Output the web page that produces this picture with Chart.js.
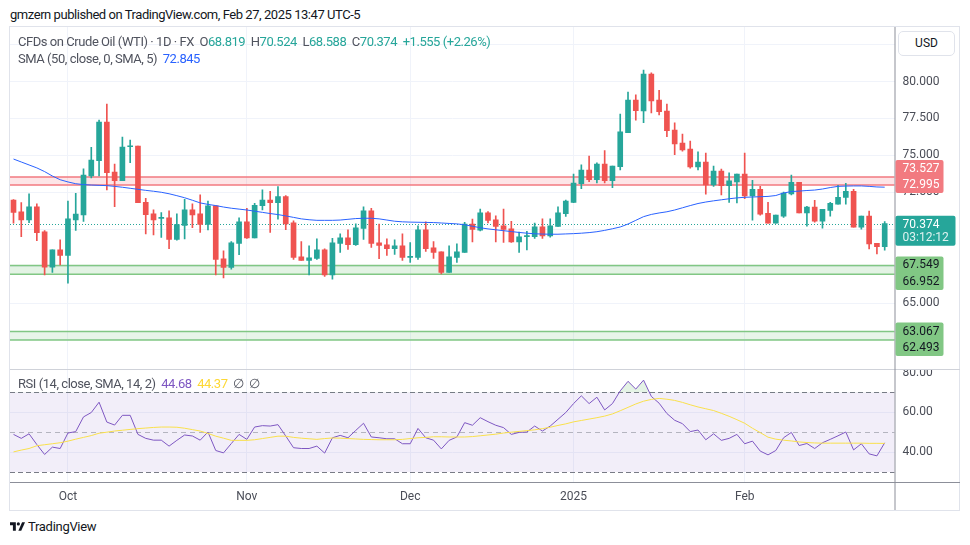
<!DOCTYPE html>
<html>
<head>
<meta charset="utf-8">
<script src="https://cdn.jsdelivr.net/npm/chart.js@4.4.1/dist/chart.umd.min.js"></script>
<style>
  body { margin: 0; background: #fff; font-family: Roboto, "Noto Sans", sans-serif; }
  #page { position: relative; width: 970px; height: 545px; overflow: hidden; background: #fff; }
  #frame { position: absolute; left: 9px; top: 26px; width: 951px; height: 485px; border: 1px solid #e0e3eb; box-sizing: border-box; }
  canvas { position: absolute; }
  .txt { position: absolute; white-space: pre; font-size: 13px; letter-spacing: -0.45px; color: #131722; line-height: 16px; }
  .g { color: #50535e; }
  .t { color: #26a69a; }
  #usd { position: absolute; left: 898px; top: 31px; width: 57px; height: 25px; border: 1px solid #e0e3eb; border-radius: 5px; box-sizing: border-box; background: #fff; font-size: 12px; color: #131722; text-align: center; line-height: 23px; }
  #logo { position: absolute; left: 10px; top: 519px; font-size: 13px; letter-spacing: -0.3px; color: #131722; display: flex; align-items: center; gap: 3px; }
</style>
</head>
<body>
<div id="page">
  <div class="txt" style="left:10px; top:7px;">gmzern published on TradingView.com, Feb 27, 2025 13:47 UTC-5</div>
  <div id="frame"></div>
  <canvas id="price" width="950" height="342" style="left:10px; top:27px;"></canvas>
  <canvas id="rsi" width="950" height="141" style="left:10px; top:369px;"></canvas>
  <div class="txt" style="left:18px; top:34px;"><span class="g">CFDs on Crude Oil (WTI) · 1D · FX  O</span><span class="t">68.819</span><span class="g">  H</span><span class="t">70.524</span><span class="g">  L</span><span class="t">68.588</span><span class="g">  C</span><span class="t">70.374</span><span class="t">  +1.555 (+2.26%)</span></div>
  <div class="txt" style="left:18px; top:51px;"><span class="g">SMA (50, close, 0, SMA, 5)  </span><span style="color:#2962ff">72.845</span></div>
  <div class="txt" style="left:18px; top:376px;"><span class="g">RSI (14, close, SMA, 14, 2)  </span><span style="color:#7e57c2">44.68</span>  <span style="color:#fdd835">44.37</span><span class="g">  ∅  ∅</span></div>
  <div id="usd">USD</div>
  <div id="logo">
    <svg width="15" height="9" viewBox="0 0 18 10"><path d="M0 0H7V10H3.5V3.5H0Z" fill="#131722"/><circle cx="10" cy="1.9" r="1.9" fill="#131722"/><path d="M14.5 0H18L13.5 10H10Z" fill="#131722"/></svg>
    <span>TradingView</span>
  </div>
</div>
<script>
// daily candles, Sep 20 2024 .. Feb 27 2025
const opens = [71.98,71.17,70.63,71.51,69.82,67.43,68.60,68.22,70.63,70.97,73.60,74.64,77.25,73.87,73.29,75.58,75.63,71.82,71.04,70.73,
  70.77,69.30,70.25,71.31,71.04,70.32,71.58,67.99,67.41,69.03,70.50,69.41,71.60,71.98,71.80,72.21,70.43,68.13,67.88,68.02,
  68.60,66.91,69.03,69.41,68.96,70.05,71.24,69.08,68.94,68.69,68.87,68.09,68.09,69.95,68.74,68.47,67.07,68.09,68.42,70.34,
  69.93,71.10,70.63,70.23,70.02,69.14,69.50,69.50,70.16,69.55,70.18,71.06,71.82,73.09,74.01,73.36,74.41,73.29,74.23,76.53,
  78.74,78.00,80.50,78.74,78.00,76.71,75.83,75.43,74.21,74.55,73.00,73.94,72.95,73.20,73.74,72.25,72.70,71.08,70.41,70.88,
  72.39,73.18,71.10,71.49,70.54,71.28,71.69,72.16,72.57,70.14,70.88,69.05,68.819];
const highs = [72.00,71.80,72.39,71.71,69.91,68.60,69.28,71.91,72.43,74.08,75.54,77.39,78.47,74.41,76.24,76.04,75.63,72.09,71.31,71.12,
  71.24,71.04,72.03,71.71,72.32,71.91,71.58,68.54,69.17,70.77,71.42,71.76,72.66,72.57,72.88,72.27,70.57,69.17,68.87,69.35,
  68.67,69.39,69.68,69.95,70.36,71.51,71.42,70.34,69.35,69.28,69.68,69.10,70.23,70.50,69.17,68.47,68.87,69.01,70.47,70.68,
  71.37,71.19,70.90,71.37,70.54,69.80,69.86,70.41,70.70,70.70,71.51,71.98,73.74,74.35,74.95,74.50,75.32,74.28,77.79,79.28,
  79.10,80.77,80.59,79.41,78.47,77.21,76.44,75.97,75.23,75.16,74.28,74.07,73.81,73.74,75.16,73.31,72.91,71.82,70.95,72.52,
  73.67,73.18,71.55,71.96,71.35,71.82,72.97,73.11,72.70,70.88,71.22,69.05,70.524];
const lows = [70.40,69.50,70.45,69.23,66.91,67.07,67.59,66.35,69.91,70.52,73.47,73.60,72.66,71.53,73.29,74.50,71.80,69.68,69.62,69.44,
  68.69,69.25,69.35,70.11,69.79,69.95,66.91,66.70,67.30,68.28,69.37,69.41,71.31,69.79,70.68,69.97,67.95,67.88,66.91,67.95,
  66.80,66.62,68.42,68.63,68.90,69.30,68.76,68.01,68.22,68.29,67.88,67.75,67.95,68.49,68.02,66.98,67.07,67.75,68.42,69.14,
  69.89,70.43,69.14,69.10,69.10,68.42,68.60,69.37,69.37,69.46,70.18,70.86,71.80,72.75,73.22,73.13,73.13,72.81,74.01,76.53,
  77.39,77.21,77.88,77.73,76.26,75.05,75.29,74.14,74.01,72.38,72.90,72.32,71.82,71.78,72.07,70.61,70.95,70.41,70.41,70.79,
  72.32,71.10,70.20,70.47,70.07,70.88,71.69,71.69,70.14,70.00,68.67,68.33,68.588];
const closes = [71.13,70.63,71.51,69.77,67.43,68.60,68.22,70.70,71.03,73.67,74.68,77.25,73.83,73.29,75.56,75.62,71.80,70.99,70.63,70.77,
  69.30,70.32,71.31,70.97,70.32,71.58,67.95,67.41,69.08,70.50,69.41,71.62,71.98,71.80,72.21,70.36,68.09,67.88,68.06,68.60,
  66.91,69.08,69.41,68.96,70.09,71.24,69.03,68.90,68.69,68.87,68.09,68.13,69.95,68.69,68.42,67.07,68.13,68.47,70.34,69.98,
  71.10,70.59,70.18,69.98,69.14,69.48,69.55,70.16,69.55,70.23,71.10,71.91,73.13,74.01,73.36,74.41,73.29,74.28,76.60,78.74,
  78.02,80.50,78.69,77.95,76.67,75.77,75.36,74.21,74.55,73.00,73.94,72.95,73.27,73.74,72.25,72.70,71.01,70.41,70.95,72.45,
  73.18,71.10,71.49,70.54,71.35,71.76,72.16,72.57,70.14,70.88,69.01,68.82,70.374];
// SMA 50 of close, read per candle
const sma50 = [74.75,74.55,74.35,74.15,73.90,73.60,73.35,73.20,73.08,73.02,72.99,72.97,72.95,72.90,72.84,72.77,72.70,72.63,72.57,72.50,
  72.40,72.27,72.13,71.96,71.78,71.68,71.60,71.50,71.42,71.36,71.30,71.22,71.14,71.06,70.99,70.90,70.80,70.70,70.64,70.60,
  70.60,70.60,70.62,70.67,70.72,70.74,70.74,70.70,70.62,70.54,70.50,70.48,70.47,70.46,70.45,70.42,70.39,70.36,70.30,70.20,
  70.10,70.02,69.96,69.90,69.84,69.78,69.73,69.69,69.67,69.66,69.66,69.68,69.70,69.73,69.77,69.83,69.92,70.03,70.15,70.35,
  70.60,70.85,71.00,71.10,71.18,71.30,71.45,71.60,71.74,71.84,71.92,71.99,72.06,72.12,72.16,72.18,72.20,72.22,72.28,72.45,
  72.55,72.58,72.62,72.65,72.72,72.82,72.90,72.92,72.93,72.93,72.90,72.86,72.845];
// RSI 14 and its SMA 14
const rsi14 = [48.9,46.9,49.2,43.8,38.8,42.5,41.8,49.6,50.3,57.7,59.9,65.1,55.1,53.6,58.5,58.5,48.9,46.9,46.0,46.0,
  43.0,45.9,48.6,48.1,46.0,50.1,40.8,39.6,44.3,48.9,46.4,52.6,53.3,53.1,53.8,48.1,42.2,41.8,41.8,43.0,
  39.5,47.2,48.4,47.2,50.9,54.5,47.6,47.2,46.7,46.7,44.2,44.2,51.9,47.2,46.0,41.6,45.9,47.6,54.8,53.5,
  57.3,55.3,53.5,52.3,48.9,49.9,50.1,53.1,50.6,53.1,56.5,59.9,64.4,68.3,64.4,67.6,61.2,64.4,70.8,75.6,
  71.7,76.2,68.0,64.6,59.4,56.0,54.3,50.3,51.1,46.2,49.2,45.9,46.9,48.9,44.2,45.5,40.5,38.6,40.8,47.2,
  49.9,43.3,44.3,41.8,44.7,46.4,48.2,50.1,41.1,44.2,39.1,38.1,44.68];
const rsiMa = [40.1,41.0,41.8,43.2,43.7,44.2,44.7,45.5,46.5,47.4,48.3,49.5,50.0,50.6,51.0,51.4,51.8,52.1,52.4,52.6,
  52.6,52.5,52.0,51.3,50.6,49.4,48.0,47.0,45.9,45.9,45.9,46.2,46.8,47.4,48.0,48.0,47.4,47.0,46.7,46.4,
  46.8,47.1,47.0,46.8,46.6,46.4,46.3,46.2,46.2,46.2,46.4,46.8,47.2,47.4,47.7,47.7,47.6,47.6,47.6,47.8,
  48.2,48.6,49.0,49.6,50.0,50.4,50.8,51.2,51.8,52.5,53.4,54.2,55.2,55.9,56.6,57.3,58.1,59.2,60.8,62.5,
  64.2,65.6,66.5,67.0,66.6,66.0,65.0,63.8,62.7,61.8,60.9,59.5,58.0,56.3,54.5,52.0,49.8,47.5,46.5,46.0,
  45.6,45.1,44.8,44.6,44.5,44.5,44.5,44.5,44.5,44.5,44.4,44.4,44.37];

// drawn levels (rectangles on the chart)
const bandHigh = [73.527, 67.549, 63.067];
const bandLow = [72.995, 66.952, 62.493];
const lastPrice = 70.374;
const countdown = '03:12:12';

// axes
const monthIdx = [7, 30, 51, 72, 94];
const monthLabels = ['Oct', 'Nov', 'Dec', '2025', 'Feb'];
const priceTicks = [62.5, 65, 67.5, 70, 72.5, 75, 77.5, 80, 82.5];
const rsiTicks = [40, 60, 80];

const up = '#26a69a', down = '#ef5350';
const gridColor = '#f0f3fa';
const axisText = '#4a4d57';
const axisLine = '#8c8f99';
const font = { family: 'Roboto, "Noto Sans", sans-serif', size: 12 };
const bandStyle = [
  { line: '#f27a80', fill: 'rgba(242,54,69,0.13)', text: '#fff' },
  { line: '#81c784', fill: 'rgba(129,199,132,0.22)', text: '#131722' },
  { line: '#81c784', fill: 'rgba(129,199,132,0.18)', text: '#131722' }
];

Chart.defaults.font.family = font.family;
const candleColors = closes.map((c, i) => c >= opens[i] ? up : down);

const xBase = {
  type: 'linear', min: -0.45, max: 113.26, offset: false,
  afterBuildTicks: s => { s.ticks = monthIdx.map(v => ({ value: v })); },
  grid: { color: gridColor, drawTicks: false, offset: false },
  border: { display: false }
};

const priceOverlay = {
  id: 'priceOverlay',
  beforeDatasetsDraw(chart) {
    const { ctx, chartArea: a, scales: { y } } = chart;
    ctx.save();
    bandHigh.forEach((hi, k) => {
      const t = y.getPixelForValue(hi), b = y.getPixelForValue(bandLow[k]);
      ctx.fillStyle = bandStyle[k].fill;
      ctx.fillRect(a.left, t, a.right - a.left, b - t);
      ctx.strokeStyle = bandStyle[k].line;
      ctx.lineWidth = 1.5;
      ctx.beginPath();
      ctx.moveTo(a.left, t); ctx.lineTo(a.right, t);
      ctx.moveTo(a.left, b); ctx.lineTo(a.right, b);
      ctx.stroke();
    });
    const ly = Math.round(y.getPixelForValue(lastPrice)) + 0.5;
    ctx.strokeStyle = up;
    ctx.lineWidth = 1;
    ctx.setLineDash([1, 2]);
    ctx.beginPath();
    ctx.moveTo(a.left, ly); ctx.lineTo(a.right, ly);
    ctx.stroke();
    ctx.restore();
  },
  afterDraw(chart) {
    const { ctx, chartArea: a, scales: { y } } = chart;
    const last = y.getPixelForValue(lastPrice);
    ctx.save();
    ctx.strokeStyle = axisLine;
    ctx.lineWidth = 1;
    ctx.beginPath();
    ctx.moveTo(a.right + 0.5, 0); ctx.lineTo(a.right + 0.5, chart.height);
    ctx.stroke();
    ctx.font = '12px ' + font.family;
    ctx.textBaseline = 'middle';
    const x0 = a.right + 1;
    bandHigh.forEach((hi, k) => {
      let ya = y.getPixelForValue(hi), yb = y.getPixelForValue(bandLow[k]);
      if (yb < last) ya = Math.min(ya, yb - 16);
      else yb = Math.max(yb, ya + 16.5);
      ctx.fillStyle = bandStyle[k].line;
      ctx.beginPath();
      ctx.roundRect(x0, ya - 9, 48, yb - ya + 17, 2);
      ctx.fill();
      ctx.fillStyle = bandStyle[k].text;
      ctx.fillText(hi.toFixed(3), x0 + 7, ya);
      ctx.fillText(bandLow[k].toFixed(3), x0 + 7, yb);
    });
    ctx.fillStyle = up;
    ctx.beginPath();
    ctx.roundRect(x0, last - 8, 60, 30, 2);
    ctx.fill();
    ctx.fillStyle = '#fff';
    ctx.fillText(lastPrice.toFixed(3), x0 + 7, last + 1);
    ctx.fillStyle = 'rgba(255,255,255,0.85)';
    ctx.fillText(countdown, x0 + 7, last + 14.5);
    ctx.restore();
  }
};

new Chart(document.getElementById('price'), {
  type: 'bar',
  data: {
    datasets: [
      {
        type: 'line', data: sma50.map((v, i) => ({ x: i, y: v })),
        borderColor: '#2962ff', borderWidth: 1, pointRadius: 0, order: 1
      },
      {
        data: opens.map((o, i) => ({ x: i, y: [o, closes[i]] })),
        backgroundColor: candleColors, barThickness: 5, minBarLength: 1, grouped: false, order: 2
      },
      {
        data: lows.map((l, i) => ({ x: i, y: [l, highs[i]] })),
        backgroundColor: candleColors, barThickness: 1, grouped: false, order: 3
      }
    ]
  },
  options: {
    responsive: false, animation: false, devicePixelRatio: 1,
    layout: { padding: 0 },
    plugins: { legend: { display: false }, tooltip: { enabled: false } },
    scales: {
      x: Object.assign({}, xBase, {
        ticks: { display: false },
        afterFit: s => { s.height = 0; s.paddingLeft = 0; s.paddingRight = 0; }
      }),
      y: {
        position: 'right', min: 60.535, max: 83.69,
        afterBuildTicks: s => { s.ticks = priceTicks.map(v => ({ value: v })); },
        ticks: { callback: v => v.toFixed(3), padding: 8, color: axisText, font },
        grid: { color: gridColor, drawTicks: false },
        border: { display: false },
        afterFit: s => { s.width = 65.5; s.paddingTop = 0; s.paddingBottom = 0; }
      }
    }
  },
  plugins: [priceOverlay]
});

const rsiOverlay = {
  id: 'rsiOverlay',
  beforeDatasetsDraw(chart) {
    const { ctx, chartArea: a, scales: { y } } = chart;
    const t = y.getPixelForValue(70), b = y.getPixelForValue(30), m = y.getPixelForValue(50);
    ctx.save();
    ctx.fillStyle = 'rgba(126,87,194,0.1)';
    ctx.fillRect(a.left, t, a.right - a.left, b - t);
    ctx.lineWidth = 1;
    ctx.setLineDash([5, 3]);
    ctx.strokeStyle = '#787b86';
    ctx.beginPath();
    ctx.moveTo(a.left, Math.round(t) + 0.5); ctx.lineTo(a.right, Math.round(t) + 0.5);
    ctx.moveTo(a.left, Math.round(b) + 0.5); ctx.lineTo(a.right, Math.round(b) + 0.5);
    ctx.stroke();
    ctx.strokeStyle = 'rgba(120,123,134,0.5)';
    ctx.setLineDash([5, 4]);
    ctx.beginPath();
    ctx.moveTo(a.left, Math.round(m) + 0.5); ctx.lineTo(a.right, Math.round(m) + 0.5);
    ctx.stroke();
    ctx.restore();
  },
  afterDraw(chart) {
    const { ctx, chartArea: a } = chart;
    ctx.save();
    ctx.lineWidth = 1;
    ctx.strokeStyle = '#cfd2d9';
    ctx.beginPath();
    ctx.moveTo(0, 0.5); ctx.lineTo(chart.width, 0.5);
    ctx.stroke();
    ctx.strokeStyle = axisLine;
    ctx.beginPath();
    ctx.moveTo(a.right + 0.5, 0); ctx.lineTo(a.right + 0.5, chart.height);
    ctx.moveTo(0, Math.round(a.bottom) + 0.5); ctx.lineTo(chart.width, Math.round(a.bottom) + 0.5);
    ctx.stroke();
    ctx.restore();
  }
};

new Chart(document.getElementById('rsi'), {
  type: 'line',
  data: {
    datasets: [
      {
        data: rsiMa.map((v, i) => ({ x: i, y: v })),
        borderColor: '#f9e04b', borderWidth: 1, pointRadius: 0, order: 1
      },
      {
        data: rsi14.map((v, i) => ({ x: i, y: v })),
        borderColor: '#7e57c2', borderWidth: 1, pointRadius: 0, order: 2,
        fill: { target: { value: 70 }, above: 'rgba(76,175,80,0.15)', below: 'rgba(0,0,0,0)' }
      }
    ]
  },
  options: {
    responsive: false, animation: false, devicePixelRatio: 1,
    layout: { padding: 0 },
    plugins: { legend: { display: false }, tooltip: { enabled: false } },
    scales: {
      x: Object.assign({}, xBase, {
        ticks: {
          autoSkip: false, maxRotation: 0, padding: 7, color: axisText, font,
          callback: v => monthLabels[monthIdx.indexOf(v)]
        },
        afterFit: s => { s.height = 27.7; s.paddingLeft = 0; s.paddingRight = 0; }
      }),
      y: {
        position: 'right', min: 24.8, max: 81.8,
        afterBuildTicks: s => { s.ticks = rsiTicks.map(v => ({ value: v })); },
        ticks: { callback: v => v.toFixed(2), padding: 8, color: axisText, font },
        grid: { color: c => c.tick && c.tick.value === 80 ? 'rgba(0,0,0,0)' : gridColor, drawTicks: false },
        border: { display: false },
        afterFit: s => { s.width = 65.5; s.paddingTop = 0; s.paddingBottom = 0; }
      }
    }
  },
  plugins: [rsiOverlay]
});
</script>
</body>
</html>
